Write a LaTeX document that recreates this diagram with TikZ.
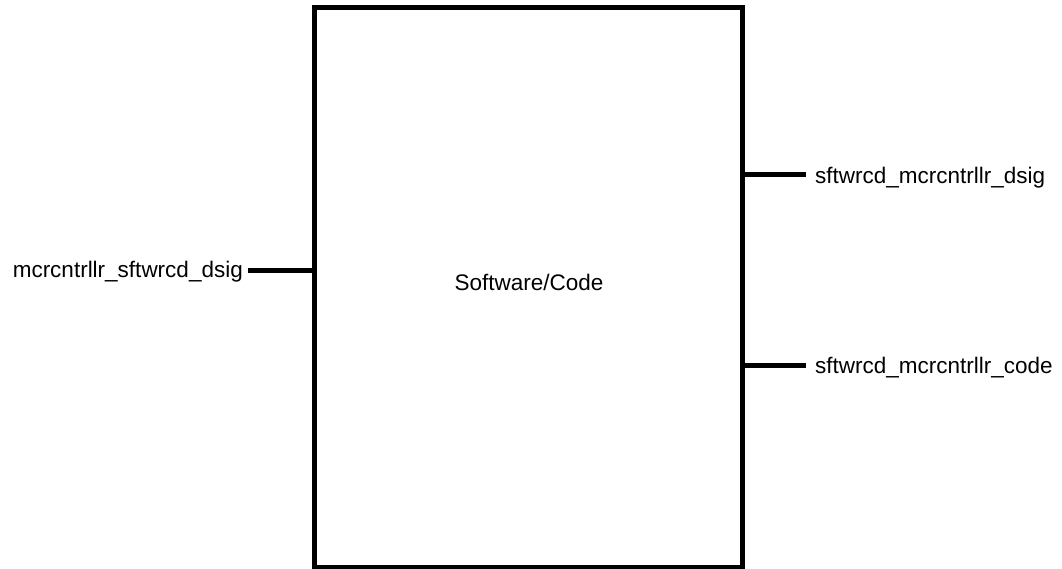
\documentclass[tikz,border=0pt]{standalone}
\usepackage{fontspec}
\setmainfont{Liberation Sans}
\begin{document}
\begin{tikzpicture}[x=1pt,y=-1pt,
  lbl/.style={inner sep=0pt,font=\fontsize{22.5}{27}\selectfont},
  wire/.style={line width=5pt}]
\useasboundingbox (0,0) rectangle (1062,569);
\node[draw,line width=5pt,minimum width=428pt,minimum height=559pt,inner sep=0pt] (box) at (528.5,287.5) {};
\node[lbl,anchor=base] (title) at (529,290) {Software/Code};
\node[lbl,anchor=base east] (lin) at (243,277) {mcrcntrllr\_sftwrcd\_dsig};
\node[lbl,anchor=base west] (out1) at (815,184) {sftwrcd\_mcrcntrllr\_dsig};
\node[lbl,anchor=base west] (out2) at (815,373) {sftwrcd\_mcrcntrllr\_code};
\coordinate (lend) at (248,270);
\coordinate (r1end) at (806,175);
\coordinate (r2end) at (806,365);
\draw[wire] (lend) -- (lend -| box.west);
\draw[wire] (r1end -| box.east) -- (r1end);
\draw[wire] (r2end -| box.east) -- (r2end);
\end{tikzpicture}
\end{document}
